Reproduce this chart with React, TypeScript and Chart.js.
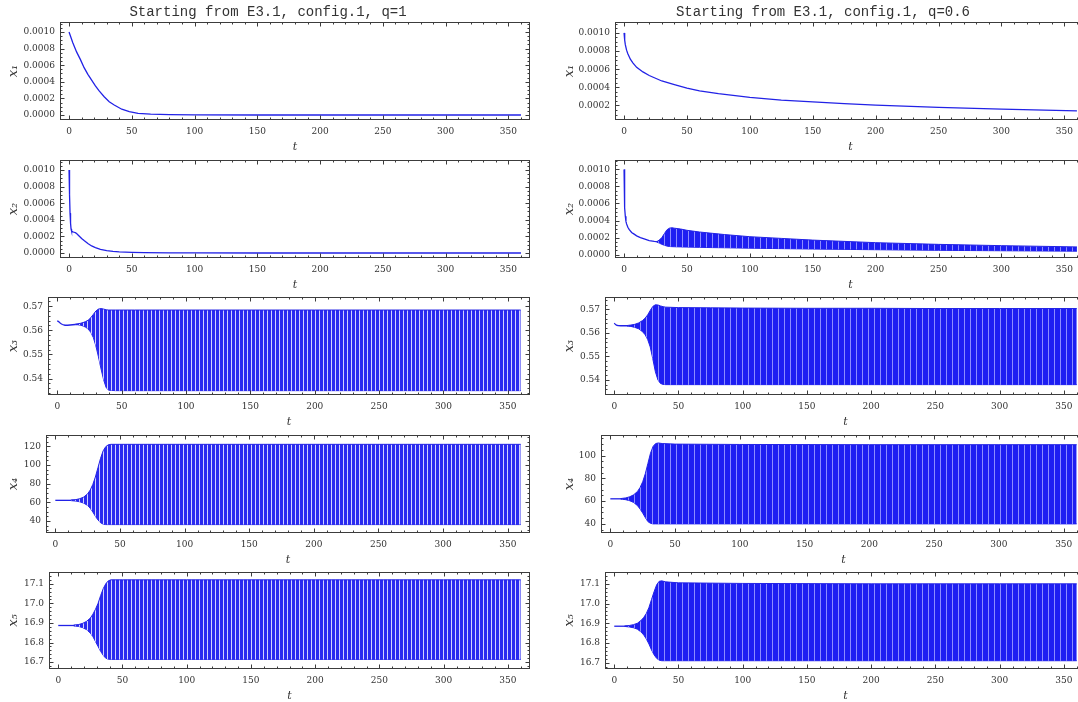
import React, { useEffect, useRef } from 'react';
import { Chart, registerables } from 'chart.js';

Chart.register(...registerables);

// ---------------- DATA ----------------
const titleLeft = 'Starting from E3.1, config.1, q=1';
const titleRight = 'Starting from E3.1, config.1, q=0.6';
const xTickLabels = [0, 50, 100, 150, 200, 250, 300, 350];

// x1, q=1
const tX1a = [0, 3, 6, 9, 12, 15, 18, 21, 24, 28, 32, 36, 42, 48, 55, 65, 80, 100, 150, 200, 250, 300, 360];
const x1a = [0.001, 0.00087, 0.00076, 0.00067, 0.00057, 0.00049, 0.00042, 0.00035, 0.00029, 0.00022, 0.00016, 0.00012, 0.00007, 0.00004, 0.00002, 0.00001, 0.000004, 0.000001, 0, 0, 0, 0, 0];
// x1, q=0.6
const tX1b = [0, 0.5, 1, 2, 3, 5, 7, 10, 15, 20, 25, 30, 40, 50, 60, 75, 100, 125, 150, 175, 200, 250, 300, 360];
const x1b = [0.001, 0.00092, 0.00087, 0.00081, 0.00077, 0.00071, 0.00067, 0.00062, 0.00057, 0.00053, 0.0005, 0.00047, 0.00043, 0.00039, 0.00036, 0.00033, 0.00029, 0.00026, 0.00024, 0.00022, 0.000205, 0.00018, 0.00016, 0.00014];

// x2, q=1
const tX2a = [0, 0.4, 0.8, 1.2, 1.6, 2, 3, 4, 5, 6, 8, 10, 12, 15, 18, 21, 25, 30, 35, 40, 50, 60, 80, 100, 150, 200, 250, 300, 360];
const x2a = [0.001, 0.0007, 0.00048, 0.00036, 0.00029, 0.000265, 0.000255, 0.00025, 0.000245, 0.000235, 0.000205, 0.000175, 0.00015, 0.000115, 0.000085, 0.000065, 0.000045, 0.00003, 0.00002, 0.000014, 0.000008, 0.000005, 0.000002, 0.000001, 0, 0, 0, 0, 0];
// x2, q=0.6 : single curve, then oscillating band
const tX2b = [0, 0.3, 0.6, 1, 1.5, 2, 3, 4, 6, 8, 10, 13, 16, 20, 24, 27];
const x2b = [0.001, 0.00072, 0.00055, 0.00045, 0.00039, 0.00036, 0.00032, 0.000295, 0.00026, 0.00024, 0.00022, 0.0002, 0.000185, 0.000165, 0.000155, 0.00015];
const tX2bBand = [26, 28, 30, 32, 34, 36, 38, 40, 45, 50, 60, 70, 80, 100, 125, 150, 200, 250, 300, 360];
const x2bUpper = [0.000152, 0.00017, 0.0002, 0.000245, 0.00029, 0.00031, 0.000315, 0.00031, 0.0003, 0.000285, 0.000265, 0.00025, 0.000235, 0.00021, 0.00019, 0.00017, 0.00014, 0.00012, 0.000105, 0.00009];
const x2bLower = [0.000148, 0.000135, 0.00012, 0.00011, 0.0001, 0.000095, 0.000093, 0.000092, 0.00009, 0.000088, 0.000085, 0.000082, 0.00008, 0.000075, 0.00007, 0.000065, 0.000057, 0.00005, 0.000045, 0.00004];

// x3, q=1
const tX3a = [0, 1, 2, 3, 4, 6, 8, 10, 12, 14, 16];
const x3a = [0.564, 0.5636, 0.5631, 0.5627, 0.5624, 0.5621, 0.5621, 0.5622, 0.5623, 0.5624, 0.5625];
const tX3aBand = [14, 16, 18, 20, 22, 24, 26, 28, 30, 32, 34, 36, 38, 40, 45, 60, 100, 200, 300, 360];
const x3aUpper = [0.5625, 0.5627, 0.5629, 0.5632, 0.5636, 0.5642, 0.5652, 0.5666, 0.568, 0.5688, 0.569, 0.5688, 0.5685, 0.5684, 0.5684, 0.5684, 0.5684, 0.5684, 0.5684, 0.5684];
const x3aLower = [0.5624, 0.5623, 0.5621, 0.5618, 0.5613, 0.5605, 0.5592, 0.557, 0.5535, 0.549, 0.544, 0.5395, 0.5362, 0.5352, 0.535, 0.535, 0.535, 0.535, 0.535, 0.535];
// x3, q=0.6
const tX3b = [0, 1, 2, 3, 5, 8, 10, 12];
const x3b = [0.5641, 0.5635, 0.5632, 0.5631, 0.563, 0.563, 0.563, 0.563];
const tX3bBand = [10, 13, 16, 19, 22, 24, 26, 28, 30, 32, 34, 36, 38, 40, 50, 75, 100, 150, 200, 250, 300, 360];
const x3bUpper = [0.5631, 0.5633, 0.5636, 0.5642, 0.5652, 0.5662, 0.5676, 0.5695, 0.5712, 0.5719, 0.5718, 0.5714, 0.5711, 0.5709, 0.5707, 0.5706, 0.5705, 0.5704, 0.5704, 0.5703, 0.5703, 0.5703];
const x3bLower = [0.5629, 0.5627, 0.5623, 0.5617, 0.5605, 0.5592, 0.5572, 0.554, 0.549, 0.5435, 0.54, 0.5385, 0.5381, 0.538, 0.538, 0.538, 0.538, 0.538, 0.538, 0.538, 0.538, 0.538];

// x4, q=1
const tX4a = [0, 5, 10, 14];
const x4a = [62, 62, 62, 62];
const tX4aBand = [12, 16, 19, 22, 25, 27, 29, 31, 33, 35, 37, 39, 41, 43, 50, 100, 200, 300, 360];
const x4aUpper = [62.3, 62.8, 63.8, 65.5, 69, 73, 79, 87, 97, 107, 115, 119.5, 121.5, 122, 122, 122, 122, 122, 122];
const x4aLower = [61.7, 61.2, 60.4, 59, 56.5, 53.5, 49.5, 45, 41, 38, 36.5, 36, 36, 36, 36, 36, 36, 36, 36];
// x4, q=0.6
const tX4b = [0, 4, 8, 10];
const x4b = [62, 62, 62, 62];
const tX4bBand = [8, 12, 15, 18, 21, 23, 25, 27, 29, 31, 33, 35, 37, 40, 50, 100, 200, 300, 360];
const x4bUpper = [62.2, 62.8, 63.8, 65.5, 68.5, 72, 77, 84, 93, 102, 108, 110.5, 111, 110.5, 110, 109.7, 109.5, 109.5, 109.5];
const x4bLower = [61.8, 61.2, 60.3, 58.8, 56, 53, 49.5, 45.5, 42, 40.5, 40, 40, 40, 40, 40, 40, 40, 40, 40];

// x5, q=1
const tX5a = [0, 5, 10, 14];
const x5a = [16.887, 16.887, 16.887, 16.887];
const tX5aBand = [12, 16, 19, 22, 25, 27, 29, 31, 33, 35, 37, 39, 41, 50, 100, 200, 300, 360];
const x5aUpper = [16.889, 16.892, 16.898, 16.908, 16.925, 16.945, 16.97, 17.0, 17.04, 17.075, 17.1, 17.115, 17.12, 17.12, 17.12, 17.12, 17.12, 17.12];
const x5aLower = [16.885, 16.882, 16.876, 16.866, 16.848, 16.83, 16.805, 16.78, 16.755, 16.735, 16.72, 16.715, 16.714, 16.714, 16.714, 16.714, 16.714, 16.714];
// x5, q=0.6
const tX5b = [0, 4, 8, 10];
const x5b = [16.885, 16.885, 16.885, 16.885];
const tX5bBand = [8, 12, 15, 18, 21, 23, 25, 27, 29, 31, 33, 35, 37, 40, 50, 100, 200, 300, 360];
const x5bUpper = [16.886, 16.889, 16.893, 16.9, 16.915, 16.93, 16.95, 16.98, 17.02, 17.06, 17.095, 17.113, 17.115, 17.11, 17.105, 17.102, 17.1, 17.1, 17.1];
const x5bLower = [16.884, 16.881, 16.877, 16.87, 16.855, 16.84, 16.82, 16.795, 16.765, 16.74, 16.722, 16.713, 16.71, 16.71, 16.71, 16.71, 16.71, 16.71, 16.71];

// y tick labels
const yTicksSmall = [0, 0.0002, 0.0004, 0.0006, 0.0008, 0.001];
const yTicksX3 = [0.54, 0.55, 0.56, 0.57];
const yTicksX4 = [40, 60, 80, 100, 120];
const yTicksX5 = [16.7, 16.8, 16.9, 17.0, 17.1];
const yTitles = ['x\u2081', 'x\u2082', 'x\u2083', 'x\u2084', 'x\u2085'];

// ---------------- LAYOUT / STYLE ----------------
const FRAME_TOP = [22, 160, 297, 435, 572];
const FRAME_BOTTOM = [120, 258, 395, 533, 669];
const FRAME_LEFT = [
  [60, 60, 48, 46, 49],
  [615, 615, 605, 601, 605],
];
const FRAME_RIGHT = [530, 1086];
const CANVAS_LEFT = [0, 545];
const CANVAS_RIGHT = [545, 1100];
const YTITLE_CENTER = [14, 570];
const X_BOX = 40;
const TOP_PAD = 14;
const BLUE = '#2222e6';

type Panel = {
  key: string;
  col: number;
  row: number;
  lineT: number[];
  lineV: number[];
  bandT?: number[];
  bandUp?: number[];
  bandLo?: number[];
  yMin: number;
  yMax: number;
  yTicks: number[];
  yMinor: number;
  dec: number;
};

const panels: Panel[] = [
  { key: 'x1a', col: 0, row: 0, lineT: tX1a, lineV: x1a, yMin: -0.00006, yMax: 0.00112, yTicks: yTicksSmall, yMinor: 0.00005, dec: 4 },
  { key: 'x1b', col: 1, row: 0, lineT: tX1b, lineV: x1b, yMin: 0.00004, yMax: 0.00112, yTicks: yTicksSmall, yMinor: 0.00005, dec: 4 },
  { key: 'x2a', col: 0, row: 1, lineT: tX2a, lineV: x2a, yMin: -0.00006, yMax: 0.00112, yTicks: yTicksSmall, yMinor: 0.00005, dec: 4 },
  { key: 'x2b', col: 1, row: 1, lineT: tX2b, lineV: x2b, bandT: tX2bBand, bandUp: x2bUpper, bandLo: x2bLower, yMin: -0.00004, yMax: 0.00111, yTicks: yTicksSmall, yMinor: 0.00005, dec: 4 },
  { key: 'x3a', col: 0, row: 2, lineT: tX3a, lineV: x3a, bandT: tX3aBand, bandUp: x3aUpper, bandLo: x3aLower, yMin: 0.5332, yMax: 0.5738, yTicks: yTicksX3, yMinor: 0.002, dec: 2 },
  { key: 'x3b', col: 1, row: 2, lineT: tX3b, lineV: x3b, bandT: tX3bBand, bandUp: x3bUpper, bandLo: x3bLower, yMin: 0.5336, yMax: 0.5752, yTicks: yTicksX3, yMinor: 0.002, dec: 2 },
  { key: 'x4a', col: 0, row: 3, lineT: tX4a, lineV: x4a, bandT: tX4aBand, bandUp: x4aUpper, bandLo: x4aLower, yMin: 27, yMax: 132, yTicks: yTicksX4, yMinor: 5, dec: 0 },
  { key: 'x4b', col: 1, row: 3, lineT: tX4b, lineV: x4b, bandT: tX4bBand, bandUp: x4bUpper, bandLo: x4bLower, yMin: 32, yMax: 118, yTicks: yTicksX4, yMinor: 5, dec: 0 },
  { key: 'x5a', col: 0, row: 4, lineT: tX5a, lineV: x5a, bandT: tX5aBand, bandUp: x5aUpper, bandLo: x5aLower, yMin: 16.665, yMax: 17.16, yTicks: yTicksX5, yMinor: 0.02, dec: 1 },
  { key: 'x5b', col: 1, row: 4, lineT: tX5b, lineV: x5b, bandT: tX5bBand, bandUp: x5bUpper, bandLo: x5bLower, yMin: 16.668, yMax: 17.16, yTicks: yTicksX5, yMinor: 0.02, dec: 1 },
];

const toPts = (t: number[], v: number[]) => t.map((x, i) => ({ x, y: v[i] }));

function makePattern(ctx: CanvasRenderingContext2D, period: number, line: string, gap: string) {
  const c = document.createElement('canvas');
  c.width = period;
  c.height = 1;
  const g = c.getContext('2d')!;
  g.fillStyle = line;
  g.fillRect(0, 0, period, 1);
  g.fillStyle = gap;
  g.fillRect(period - 1, 0, 1, 1);
  return ctx.createPattern(c, 'repeat');
}

function minorValues(min: number, max: number, step: number) {
  const out: number[] = [];
  for (let k = Math.ceil(min / step - 1e-9); k * step <= max + 1e-12; k++) out.push(k * step);
  return out;
}

function framePlugin(p: Panel) {
  return {
    id: 'frame_' + p.key,
    afterDraw(chart: any) {
      const { ctx, chartArea: a } = chart;
      const xs = chart.scales.x;
      const ys = chart.scales.y;
      const L = Math.round(a.left) + 0.5;
      const R = Math.round(a.right) - 0.5;
      const T = Math.round(a.top) + 0.5;
      const B = Math.round(a.bottom) - 0.5;
      ctx.save();
      ctx.strokeStyle = '#3c3c3c';
      ctx.lineWidth = 1;
      ctx.strokeRect(L, T, R - L, B - T);
      ctx.beginPath();
      const xt = (v: number, len: number) => {
        const px = Math.round(xs.getPixelForValue(v)) + 0.5;
        if (px < L || px > R) return;
        ctx.moveTo(px, B); ctx.lineTo(px, B - len);
        ctx.moveTo(px, T); ctx.lineTo(px, T + len);
      };
      const yt = (v: number, len: number) => {
        const py = Math.round(ys.getPixelForValue(v)) + 0.5;
        if (py < T || py > B) return;
        ctx.moveTo(L, py); ctx.lineTo(L + len, py);
        ctx.moveTo(R, py); ctx.lineTo(R - len, py);
      };
      minorValues(-7.2, 367.2, 10).forEach((v) => xt(v, 2));
      xTickLabels.forEach((v) => xt(v, 4));
      minorValues(p.yMin, p.yMax, p.yMinor).forEach((v) => yt(v, 2));
      p.yTicks.forEach((v) => yt(v, 4));
      ctx.stroke();
      ctx.restore();
    },
  };
}

const tickFont = { family: '"DejaVu Serif", serif', size: 9 };

function PanelChart({ p }: { p: Panel }) {
  const ref = useRef<HTMLCanvasElement>(null);
  const cLeft = CANVAS_LEFT[p.col];
  const cRight = CANVAS_RIGHT[p.col];
  const fLeft = FRAME_LEFT[p.col][p.row];
  const fRight = FRAME_RIGHT[p.col];
  const cTop = FRAME_TOP[p.row] - TOP_PAD;
  const cH = FRAME_BOTTOM[p.row] + X_BOX - cTop;
  const cW = cRight - cLeft;

  useEffect(() => {
    const canvas = ref.current!;
    const ctx = canvas.getContext('2d')!;
    const pattern = p.col === 0
      ? makePattern(ctx, 4, '#2a2af0', '#d2d2ff')
      : makePattern(ctx, 6, '#1e1ef2', '#8c8cff');
    const datasets: any[] = [];
    if (p.bandT && p.bandUp && p.bandLo) {
      datasets.push({
        data: toPts(p.bandT, p.bandUp),
        borderColor: BLUE,
        borderWidth: 1,
        backgroundColor: pattern,
        fill: '+1',
        pointRadius: 0,
        tension: 0,
      });
      datasets.push({
        data: toPts(p.bandT, p.bandLo),
        borderColor: BLUE,
        borderWidth: 1,
        fill: false,
        pointRadius: 0,
        tension: 0,
      });
    }
    datasets.push({
      data: toPts(p.lineT, p.lineV),
      borderColor: BLUE,
      borderWidth: 1.3,
      fill: false,
      pointRadius: 0,
      tension: 0,
    });
    const yTitleSize = 13;
    const ytTitleLh = yTitleSize * 1.2;
    const chart = new Chart(ctx, {
      type: 'line',
      data: { datasets },
      plugins: [framePlugin(p)],
      options: {
        animation: false,
        responsive: false,
        maintainAspectRatio: false,
        devicePixelRatio: 1,
        events: [],
        layout: { padding: { left: 0, top: TOP_PAD, right: cRight - fRight, bottom: 0 } },
        plugins: { legend: { display: false }, tooltip: { enabled: false }, title: { display: false } },
        scales: {
          x: {
            type: 'linear',
            min: -7.2,
            max: 367.2,
            grid: { display: false, drawTicks: false },
            border: { display: false },
            afterBuildTicks: (s: any) => { s.ticks = xTickLabels.map((v) => ({ value: v })); },
            afterFit: (s: any) => { s.height = X_BOX; },
            ticks: { font: tickFont, color: '#333', padding: 6, maxRotation: 0, autoSkip: false, callback: (v: any) => String(v) },
            title: { display: true, text: 't', color: '#333', font: { family: '"DejaVu Serif", serif', size: 11, style: 'italic' }, padding: { top: 0, bottom: 6 } },
          },
          y: {
            type: 'linear',
            min: p.yMin,
            max: p.yMax,
            grid: { display: false, drawTicks: false },
            border: { display: false },
            afterBuildTicks: (s: any) => { s.ticks = p.yTicks.filter((v) => v >= p.yMin && v <= p.yMax).map((v) => ({ value: v })); },
            afterFit: (s: any) => { s.width = fLeft - cLeft; },
            ticks: { font: tickFont, color: '#333', padding: 5, autoSkip: false, callback: (v: any) => Number(v).toFixed(p.dec) },
            title: {
              display: true,
              text: yTitles[p.row],
              color: '#333',
              font: { family: '"DejaVu Serif", serif', size: yTitleSize, style: 'italic' },
              padding: { top: YTITLE_CENTER[p.col] - cLeft - ytTitleLh / 2, bottom: 0 },
            },
          },
        },
      } as any,
    });
    return () => chart.destroy();
  }, []);

  return (
    <canvas
      ref={ref}
      width={cW}
      height={cH}
      style={{ position: 'absolute', left: cLeft, top: cTop, width: cW, height: cH }}
    />
  );
}

export default function App() {
  const titleStyle: React.CSSProperties = {
    position: 'absolute',
    top: 4,
    width: 540,
    textAlign: 'center',
    fontFamily: '"Liberation Mono", "DejaVu Sans Mono", monospace',
    fontSize: 14,
    lineHeight: '16px',
    color: '#333',
    whiteSpace: 'pre',
  };
  return (
    <div style={{ position: 'absolute', left: 0, top: 0, width: 1078, height: 702, overflow: 'hidden', background: '#fff' }}>
      {panels.map((p) => (
        <PanelChart key={p.key} p={p} />
      ))}
      <div style={{ ...titleStyle, left: -2 }}>{titleLeft}</div>
      <div style={{ ...titleStyle, left: 553 }}>{titleRight}</div>
    </div>
  );
}
